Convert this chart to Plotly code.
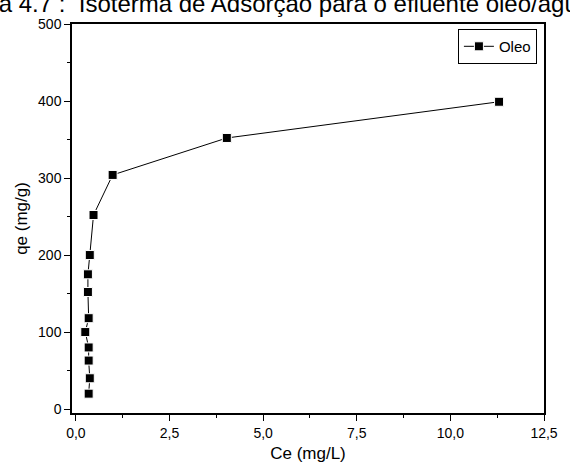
import plotly.graph_objects as go

# Adsorption isotherm: equilibrium concentration vs. adsorbed amount
ce_mg_l = [0.34, 0.37, 0.34, 0.34, 0.25, 0.34, 0.32, 0.32, 0.37, 0.47, 0.98, 4.03, 11.30]
qe_mg_g = [20, 40, 63, 80, 100, 118, 152, 175, 200, 252, 304, 352, 399]
series_name = "Oleo"

x_tick_vals = [0, 2.5, 5, 7.5, 10, 12.5]
x_tick_text = ["0,0", "2,5", "5,0", "7,5", "10,0", "12,5"]
y_tick_vals = [0, 100, 200, 300, 400, 500]
y_tick_text = ["0", "100", "200", "300", "400", "500"]

title_text = "Figura 4.7 :  Isoterma de Adsorção para o efluente óleo/água"

font_family = "Liberation Sans, Arial, sans-serif"

fig = go.Figure()
fig.add_trace(go.Scatter(
    x=ce_mg_l, y=qe_mg_g, name=series_name,
    mode="lines+markers",
    line=dict(color="black", width=1),
    marker=dict(symbol="square", size=9, color="black",
                line=dict(color="white", width=1)),
))

axis_common = dict(
    showline=True, linecolor="black", linewidth=1.5, mirror=True,
    ticks="outside", ticklen=6, tickwidth=1.2, tickcolor="black",
    showgrid=False, zeroline=False,
    tickfont=dict(family=font_family, size=14, color="black"),
)

fig.update_xaxes(
    range=[-0.105, 12.5],
    tickvals=x_tick_vals, ticktext=x_tick_text,
    minor=dict(ticks="outside", ticklen=3, tickwidth=1, tickcolor="black",
               dtick=1.25, tick0=0),
    title=dict(text="Ce (mg/L)", font=dict(family=font_family, size=17, color="black"),
               standoff=8),
    **axis_common,
)
fig.update_yaxes(
    range=[-5.1, 500],
    tickvals=y_tick_vals, ticktext=y_tick_text,
    minor=dict(ticks="outside", ticklen=3, tickwidth=1, tickcolor="black",
               dtick=50, tick0=0),
    title=dict(text="qe (mg/g)", font=dict(family=font_family, size=17, color="black"),
               standoff=6),
    **axis_common,
)

fig.add_annotation(
    text=title_text, xref="paper", yref="paper",
    x=-0.276, y=1.053, xanchor="left", yanchor="middle",
    showarrow=False,
    font=dict(family=font_family, size=24, color="black"),
)

fig.update_layout(
    width=570, height=472,
    margin=dict(l=72, r=16, t=24, b=55),
    paper_bgcolor="white", plot_bgcolor="white",
    showlegend=True,
    legend=dict(
        x=0.985, y=0.987, xanchor="right", yanchor="top",
        bgcolor="white", bordercolor="black", borderwidth=1,
        font=dict(family=font_family, size=15, color="black"),
        itemwidth=30, tracegroupgap=0,
    ),
)

fig.write_html("out.html")
